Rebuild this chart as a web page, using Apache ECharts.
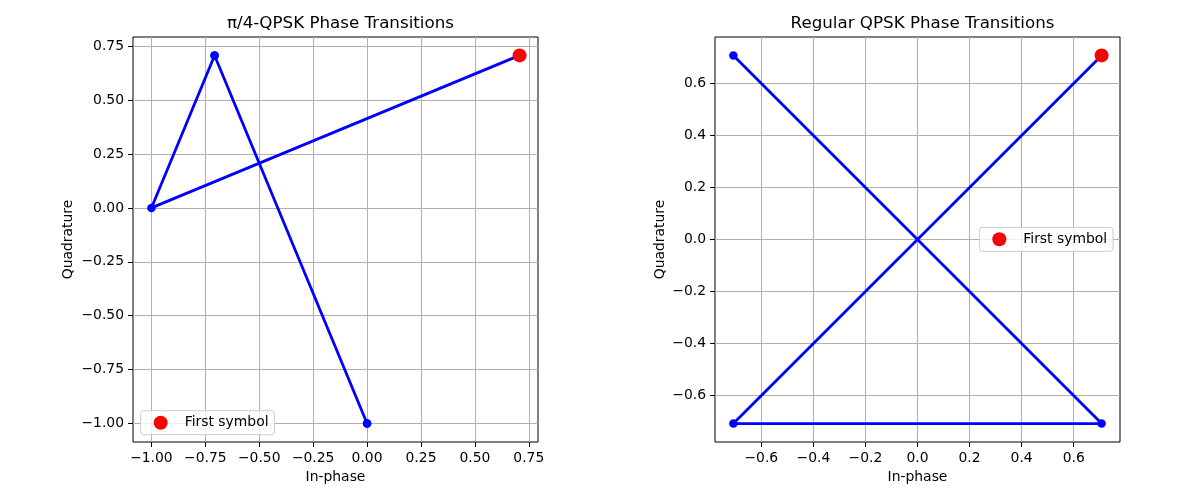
<!DOCTYPE html>
<html>
<head>
<meta charset="utf-8">
<script src="https://cdn.jsdelivr.net/npm/echarts@6/dist/echarts.min.js"></script>
<style>
  html, body { margin: 0; padding: 0; background: #fff; }
  #chart { width: 1200px; height: 500px; }
</style>
</head>
<body>
<div id="chart"></div>
<script>
// ---- data ----
const titles = ['π/4-QPSK Phase Transitions', 'Regular QPSK Phase Transitions'];
const legendName = 'First symbol';
const xName = 'In-phase';
const yName = 'Quadrature';

const leftI = [0.7071, -1, -0.7071, 0, -0.7071, 0];
const leftQ = [0.7071, 0, 0.7071, -1, 0.7071, -1];
const rightI = [0.7071, -0.7071, 0.7071, -0.7071];
const rightQ = [0.7071, -0.7071, -0.7071, 0.7071];
const firstI = [0.7071, 0.7071];
const firstQ = [0.7071, 0.7071];

const leftTicks = [-1, -0.75, -0.5, -0.25, 0, 0.25, 0.5, 0.75];
const rightTicks = [-0.6, -0.4, -0.2, 0, 0.2, 0.4, 0.6];

const leftRange = [-1.0854, 0.7925];
const rightRange = [-0.7778, 0.7778];

// ---- build ----
const FONT = 'DejaVu Sans';
const pairs = (xs, ys) => xs.map((x, i) => [x, ys[i]]);
const fmt = d => v => v.toFixed(d).replace('-', '\u2212');

function axis(gridIndex, range, ticks, dec, isX, name, nameGap) {
  return {
    type: 'value',
    gridIndex: gridIndex,
    position: isX ? 'bottom' : 'left',
    min: range[0], max: range[1],
    name: name,
    nameLocation: 'middle',
    nameGap: nameGap,
    nameTextStyle: { fontFamily: FONT, fontSize: 13.9, color: '#000' },
    axisLine: { show: false, onZero: false },
    axisTick: { show: true, inside: false, length: 5, lineStyle: { color: '#000', width: 1 }, customValues: ticks },
    axisLabel: { show: true, margin: 9, fontFamily: FONT, fontSize: 13.9, color: '#000', formatter: fmt(dec), customValues: ticks, showMinLabel: true, showMaxLabel: true },
    splitLine: { show: true, lineStyle: { color: '#b0b0b0', width: 1 }, customValues: ticks }
  };
}

function legend(left, top) {
  return { data: [legendName], left: left, top: top, orient: 'vertical', icon: 'circle', itemWidth: 24, itemHeight: 14, itemGap: 0,
    padding: [5, 6, 5, 13], backgroundColor: 'rgba(255,255,255,0.8)', borderColor: '#cccccc', borderWidth: 1, borderRadius: 3,
    textStyle: { fontFamily: FONT, fontSize: 13.9, color: '#000', padding: [0, 0, 0, 7] }, selectedMode: false };
}

const option = {
  animation: false,
  backgroundColor: '#fff',
  title: [
    { text: titles[0], left: 335.5, top: 10, textAlign: 'center', textStyle: { fontFamily: FONT, fontSize: 16.7, fontWeight: 'normal', color: '#000' } },
    { text: titles[1], left: 917.5, top: 10, textAlign: 'center', textStyle: { fontFamily: FONT, fontSize: 16.7, fontWeight: 'normal', color: '#000' } }
  ],
  grid: [
    { left: 133, top: 37, width: 405, height: 405, show: true, borderColor: '#000', borderWidth: 1, backgroundColor: 'transparent', containLabel: false, outerBoundsMode: 'none' },
    { left: 715, top: 37, width: 405, height: 405, show: true, borderColor: '#000', borderWidth: 1, backgroundColor: 'transparent', containLabel: false, outerBoundsMode: 'none' }
  ],
  xAxis: [
    axis(0, leftRange, leftTicks, 2, true, xName, 28),
    axis(1, rightRange, rightTicks, 1, true, xName, 28)
  ],
  yAxis: [
    axis(0, leftRange, leftTicks, 2, false, yName, 58),
    axis(1, rightRange, rightTicks, 1, false, yName, 48)
  ],
  legend: [ legend(140.7, 410.7), legend(979.3, 227.3) ],
  series: [
    { name: 'pi4', type: 'line', xAxisIndex: 0, yAxisIndex: 0, data: pairs(leftI, leftQ),
      symbol: 'circle', symbolSize: 8.5, showSymbol: true, color: '#0000ff',
      lineStyle: { color: '#0000ff', width: 2.8 }, itemStyle: { color: '#0000ff' }, z: 2 },
    { name: legendName, type: 'scatter', xAxisIndex: 0, yAxisIndex: 0, data: pairs(firstI, firstQ).slice(0, 1),
      symbol: 'circle', symbolSize: 14, itemStyle: { color: '#ff0000', opacity: 1 }, z: 3 },
    { name: 'qpsk', type: 'line', xAxisIndex: 1, yAxisIndex: 1, data: pairs(rightI, rightQ),
      symbol: 'circle', symbolSize: 8.5, showSymbol: true, color: '#0000ff',
      lineStyle: { color: '#0000ff', width: 2.8 }, itemStyle: { color: '#0000ff' }, z: 2 },
    { name: legendName, type: 'scatter', xAxisIndex: 1, yAxisIndex: 1, data: pairs(firstI, firstQ).slice(1, 2),
      symbol: 'circle', symbolSize: 14, itemStyle: { color: '#ff0000', opacity: 1 }, z: 3 }
  ]
};

const chart = echarts.init(document.getElementById('chart'), null, { renderer: 'canvas' });
chart.setOption(option);
</script>
</body>
</html>
